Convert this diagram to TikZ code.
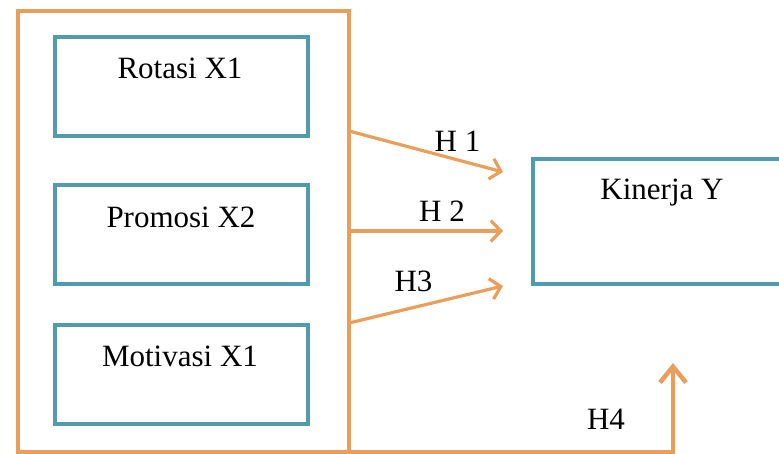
\documentclass[tikz,border=0pt]{standalone}
\usepackage{fontspec}
\setmainfont{Liberation Serif}
\usetikzlibrary{arrows.meta}
\definecolor{orng}{RGB}{234,158,92}
\definecolor{teal2}{RGB}{80,156,172}
\tikzset{
  frame/.style={draw=orng, line width=3.5pt, inner sep=0pt, outer sep=0pt, minimum width=#1},
  tbox/.style={draw=teal2, line width=4.5pt, inner sep=0pt, outer sep=0pt},
  lbl/.style={anchor=base, inner sep=0pt, font=\fontsize{31}{36}\selectfont},
  conn/.style={draw=orng, line width=3.2pt, -{Straight Barb[length=10pt,width=21pt,line width=3.2pt]}},
  conn4/.style={draw=orng, line width=4.5pt, -{Straight Barb[length=16pt,width=26pt,line width=4.5pt]}}
}
\begin{document}
\begin{tikzpicture}[x=1pt,y=-1pt]
\clip (0,0) rectangle (779,454);
\path[use as bounding box] (0,0) rectangle (779,454);
% outer frame
\node[frame=331pt, minimum height=441pt] (outer) at (183.5,231.5) {};
% inner boxes
\node[tbox, minimum width=253pt, minimum height=99pt] (rot) at (181.5,86.5) {};
\node[tbox, minimum width=253pt, minimum height=99pt] (pro) at (181.5,234.5) {};
\node[tbox, minimum width=253pt, minimum height=99pt] (mot) at (181.5,374.5) {};
\node[tbox, minimum width=260pt, minimum height=125pt] (kin) at (663,221.5) {};
% texts
\node[lbl] (trot) at (180,79) {Rotasi X1};
\node[lbl] (tpro) at (181,228) {Promosi X2};
\node[lbl] (tmot) at (180,366) {Motivasi X1};
\node[lbl] (tkin) at (662,200) {Kinerja Y};
% connector points
\coordinate (s1) at (outer.east |- 0,131);
\coordinate (e1) at (503,172);
\coordinate (s2) at (outer.east |- 0,231);
\coordinate (e2) at (503,231);
\coordinate (s3) at (outer.east |- 0,323);
\coordinate (e3) at (503,286);
\coordinate (s4) at (outer.south east);
\coordinate (c4) at (673,452);
\coordinate (e4) at (673,363);
\draw[conn] (s1) -- (e1);
\draw[conn] (s2) -- (e2);
\draw[conn] (s3) -- (e3);
\draw[conn4] (s4) -- (c4) -- (e4);
% labels
\node[lbl] (h1) at (457.5,152) {H 1};
\node[lbl] (h2) at (442,222) {H 2};
\node[lbl] (h3) at (413.5,291) {H3};
\node[lbl] (h4) at (606,429) {H4};
\end{tikzpicture}
\end{document}
